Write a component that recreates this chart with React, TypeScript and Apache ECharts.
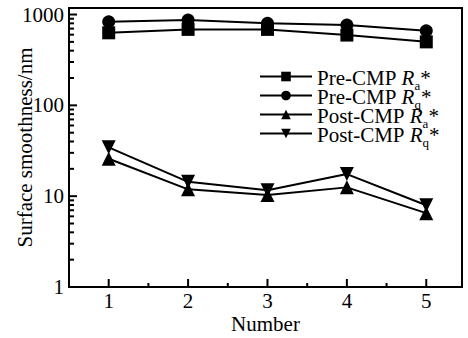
import React, { useEffect, useRef } from "react";
import * as echarts from "echarts";

const categories = [1, 2, 3, 4, 5];
const preRa = [629, 686, 686, 594, 500];
const preRq = [832, 869, 800, 766, 662];
const postRa = [25.8, 11.9, 10.3, 12.5, 6.5];
const postRq = [34.5, 14.4, 11.6, 17.5, 7.95];
const yMajor = [1, 10, 100, 1000];
const yMinor = [2, 3, 4, 5, 6, 7, 8, 9, 20, 30, 40, 50, 60, 70, 80, 90, 200, 300, 400, 500, 600, 700, 800, 900];
const xMajor = [1, 2, 3, 4, 5];
const xMinor = [1.5, 2.5, 3.5, 4.5];
const X_MIN = 0.5;
const X_MAX = 5.45;
const Y_MIN = 1;
const Y_MAX = 1180;

const FONT = "'Liberation Serif', 'Times New Roman', serif";
const FS = 21;

export default function App() {
  const ref = useRef<HTMLDivElement>(null);
  useEffect(() => {
    if (!ref.current) return;
    const chart = echarts.init(ref.current, null, { renderer: "svg" });
    const mk = (name: string, vals: number[], symbol: string, size: number, rot = 0) => ({
      name,
      type: "line",
      data: categories.map((c, i) => [c, vals[i]]),
      symbol,
      symbolSize: size,
      symbolRotate: rot,
      lineStyle: { color: "#000", width: 2 },
      itemStyle: { color: "#000" },
      z: 3,
    });
    const richText = {
      fontFamily: FONT,
      fontSize: FS,
      color: "#000",
      rich: {
        t: { fontFamily: FONT, fontSize: FS, color: "#000", lineHeight: 19, verticalAlign: "top" },
        i: { fontFamily: FONT, fontSize: FS, fontStyle: "italic", color: "#000", lineHeight: 19, verticalAlign: "top" },
        sub: { fontFamily: FONT, fontSize: 13, color: "#000", lineHeight: 10, verticalAlign: "top", padding: [12, 0, 0, 0] },
      },
    };
    const black = { color: "#000", width: 2 };
    // tick marks: [x, y, length, direction(0 = y-axis tick, 1 = x-axis tick)]
    const tickData = [
      ...yMajor.map((v) => [X_MIN, v, 8, 0]),
      ...yMinor.map((v) => [X_MIN, v, 5, 0]),
      ...xMajor.map((v) => [v, Y_MIN, 8, 1]),
      ...xMinor.map((v) => [v, Y_MIN, 4, 1]),
    ];
    chart.setOption({
      animation: false,
      backgroundColor: "#fff",
      textStyle: { fontFamily: FONT },
      grid: {
        left: 69,
        top: 8,
        right: 6,
        bottom: 51,
        show: true,
        borderColor: "#000",
        borderWidth: 2,
        outerBoundsMode: "none",
        containLabel: false,
      },
      legend: {
        orient: "vertical",
        left: 259,
        top: 67,
        padding: 0,
        itemWidth: 52,
        itemHeight: 12,
        itemGap: -6,
        textStyle: richText,
        formatter: (name: string) => {
          const m = name.match(/^(.*) R(.)\*$/);
          if (!m) return name;
          return `{t|${m[1]} }{i|R}{sub|${m[2]}}{t|*}`;
        },
        data: ["Pre-CMP Ra*", "Pre-CMP Rq*", "Post-CMP Ra*", "Post-CMP Rq*"],
      },
      xAxis: {
        type: "value",
        min: X_MIN,
        max: X_MAX,
        name: "Number",
        nameLocation: "middle",
        nameGap: 26,
        nameMoveOverlap: false,
        nameTextStyle: { fontFamily: FONT, fontSize: FS, color: "#000" },
        axisLine: { show: true, lineStyle: black },
        axisTick: { show: false },
        axisLabel: { customValues: xMajor, fontFamily: FONT, fontSize: FS, color: "#000", margin: 3 },
        splitLine: { show: false },
      },
      yAxis: {
        type: "log",
        logBase: 10,
        min: Y_MIN,
        max: Y_MAX,
        name: "Surface smoothness/nm",
        nameLocation: "middle",
        nameGap: 34,
        nameMoveOverlap: false,
        nameTextStyle: { fontFamily: FONT, fontSize: FS, color: "#000" },
        axisLine: { show: true, lineStyle: black },
        axisTick: { show: false },
        axisLabel: {
          fontFamily: FONT,
          fontSize: FS,
          color: "#000",
          margin: 5,
          formatter: (v: number) => (yMajor.some((m) => Math.abs(m - v) < 1e-6) ? String(Math.round(v)) : ""),
        },
        splitLine: { show: false },
      },
      series: [
        mk("Pre-CMP Ra*", preRa, "rect", 13),
        mk("Pre-CMP Rq*", preRq, "circle", 13),
        mk("Post-CMP Ra*", postRa, "triangle", 14),
        mk("Post-CMP Rq*", postRq, "triangle", 14, 180),
        {
          name: "ticks",
          type: "custom",
          silent: true,
          clip: false,
          z: 4,
          encode: { x: 0, y: 1 },
          data: tickData,
          renderItem: (_params: any, api: any) => {
            const x = api.value(0);
            const y = api.value(1);
            const len = api.value(2);
            const dir = api.value(3);
            const p = api.coord([x, y]);
            const shape =
              dir === 1
                ? { x1: p[0], y1: p[1], x2: p[0], y2: p[1] - len }
                : { x1: p[0], y1: p[1], x2: p[0] + len, y2: p[1] };
            return { type: "line", shape, style: { stroke: "#000", lineWidth: 2 } };
          },
        },
      ],
    });
    return () => chart.dispose();
  }, []);
  return <div ref={ref} style={{ width: 468, height: 338, position: "absolute", left: 0, top: 0 }} />;
}
